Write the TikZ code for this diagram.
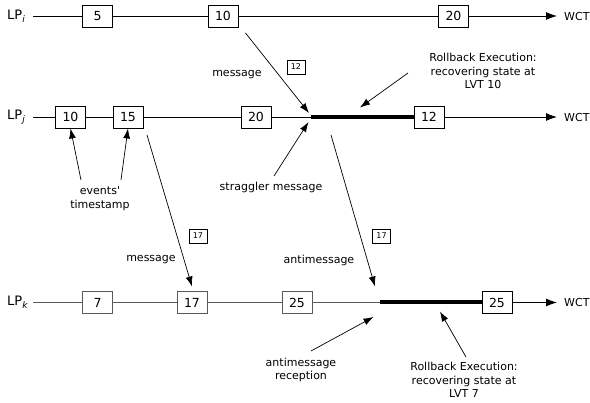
\documentclass[tikz,border=0pt]{standalone}
\usepackage{fontspec}
\setmainfont{DejaVu Sans}
\newfontfamily\plainfont[Ligatures=ResetAll]{DejaVu Sans}
\usetikzlibrary{arrows.meta}
\tikzset{
  ev/.style={draw, fill=white, line width=0.9pt, minimum width=30pt, minimum height=22pt, inner sep=1pt, font=\fontsize{12.5}{14}\selectfont},
  evk/.style={ev, draw=black!65},
  tiny/.style={draw, fill=white, line width=0.6pt, minimum width=18pt, minimum height=14pt, inner sep=1pt, font=\fontsize{8}{9}\selectfont},
  lbl/.style={align=center, inner sep=0pt, font=\fontsize{11}{13.5}\selectfont},
  lp/.style={anchor=west, inner sep=0pt, font=\fontsize{13}{15}\selectfont},
  tl/.style={line width=0.9pt},
  tlk/.style={line width=1.1pt, draw=black!65},
  wct/.style={line width=0.9pt, -{Latex[length=11pt,width=8pt]}},
  msg/.style={line width=0.7pt, -{Latex[length=10pt,width=7pt]}},
  thickseg/.style={line width=4pt},
}
\begin{document}
\begin{tikzpicture}[x=1pt,y=-1pt]
\path[use as bounding box] (0,0) rectangle (590,403);
% row i
\node[lp] (LPi) at (7,16) {LP\textsubscript{\itshape i}};
\coordinate (si) at (33,16);
\node[ev] (i5) at (97.5,16) {5};
\node[ev] (i10) at (223,16) {10};
\node[ev] (i20) at (453.5,16) {20};
\coordinate (ei) at (557,16);
\node[lbl, anchor=west] (wi) at (564,16) {WCT};
\draw[tl] (si) -- (i5.west) (i5.east) -- (i10.west) (i10.east) -- (i20.west);
\draw[wct] (i20.east) -- (ei);
% row j
\node[lp] (LPj) at (7,117) {LP\textsubscript{\itshape j}};
\coordinate (sj) at (33,117);
\node[ev] (j10) at (70.5,117) {10};
\node[ev] (j15) at (128,117) {15};
\node[ev] (j20) at (256,117) {20};
\coordinate (rj1) at (311,117);
\node[ev] (j12) at (429,117) {12};
\coordinate (ej) at (557,117);
\node[lbl, anchor=west] (wj) at (564,117) {WCT};
\draw[tl] (sj) -- (j10.west) (j10.east) -- (j15.west) (j15.east) -- (j20.west) (j20.east) -- (rj1);
\draw[thickseg] (rj1) -- (j12.west);
\draw[wct] (j12.east) -- (ej);
% row k
\node[lp] (LPk) at (7,302.5) {LP\textsubscript{\itshape k}};
\coordinate (sk) at (33,302.5);
\node[evk] (k7) at (97.5,302.5) {7};
\node[evk] (k17) at (192,302.5) {17};
\node[evk] (k25) at (297,302.5) {25};
\coordinate (rk1) at (380,302.5);
\node[ev] (k25b) at (497,302.5) {25};
\coordinate (ek) at (557,302.5);
\node[lbl, anchor=west] (wk) at (564,302.5) {WCT};
\draw[tlk] (sk) -- (k7.west) (k7.east) -- (k17.west) (k17.east) -- (k25.west) (k25.east) -- (rk1);
\draw[thickseg] (rk1) -- (k25b.west);
\draw[wct] (k25b.east) -- (ek);
% message i -> j
\coordinate (m1s) at (245.5,33);
\coordinate (m1e) at (309,113);
\draw[msg] (m1s) -- (m1e);
\node[lbl] (m1l) at (237,75) {message};
\node[tiny] (m1t) at (296,67) {12};
% straggler
\node[lbl] (strag) at (271,187) {straggler message};
\coordinate (sgs) at (274,176);
\coordinate (sge) at (308.5,122);
\draw[msg] (sgs) -- (sge);
% rollback j
\node[lbl] (rbj) at (483,71) {Rollback Execution:\\recovering state at\\LVT 10};
\coordinate (rbjs) at (408,73);
\coordinate (rbje) at (360,107.5);
\draw[msg] (rbjs) -- (rbje);
% events' timestamp
\node[lbl] (evt) at (100,198.5) {events{\plainfont '}\\timestamp};
\coordinate (e1s) at (81,180);
\coordinate (e2s) at (121,180);
\draw[msg] (e1s) -- (j10.south);
\draw[msg] (e2s) -- (j15.south);
% message j -> k
\coordinate (m2s) at (147,135);
\coordinate (m2e) at (192,286.5);
\draw[msg] (m2s) -- (m2e);
\node[lbl] (m2l) at (151,260) {message};
\node[tiny] (m2t) at (198,236) {17};
% antimessage
\coordinate (a1s) at (331,135);
\coordinate (a1e) at (375,286.5);
\draw[msg] (a1s) -- (a1e);
\node[lbl] (a1l) at (319,260) {antimessage};
\node[tiny] (a1t) at (381.5,236) {17};
% antimessage reception
\node[lbl] (arec) at (301,370) {antimessage\\reception};
\coordinate (ars) at (311,351);
\coordinate (are) at (373.5,317);
\draw[msg] (ars) -- (are);
% rollback k
\node[lbl] (rbk) at (464,380) {Rollback Execution:\\recovering state at\\LVT 7};
\coordinate (rbks) at (466,357);
\coordinate (rbke) at (440,311.5);
\draw[msg] (rbks) -- (rbke);
\end{tikzpicture}
\end{document}
